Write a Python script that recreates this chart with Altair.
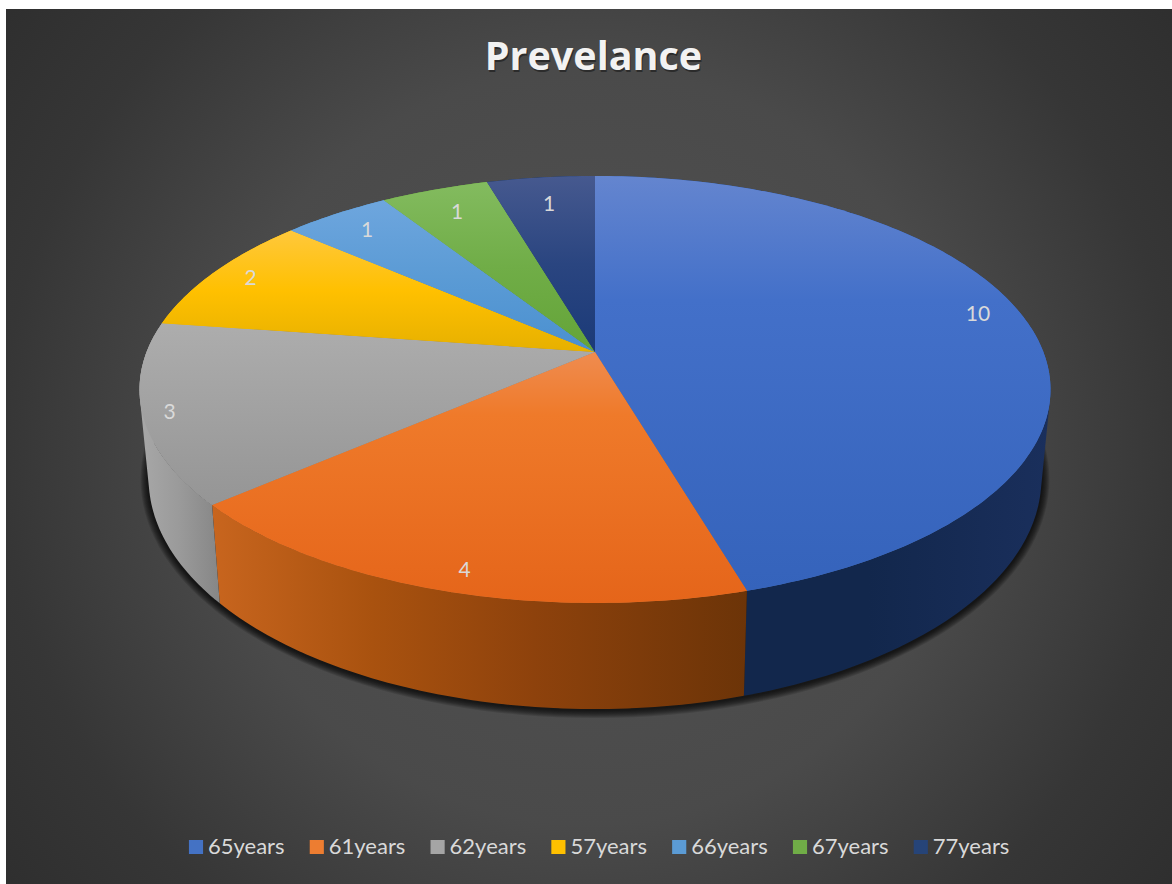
import math
import altair as alt

# Age groups and their case counts
ages = ["65years", "61years", "62years", "57years", "66years", "67years", "77years"]
counts = [10, 4, 3, 2, 1, 1, 1]
flat_colors = ["#4472c4", "#ed7d31", "#a5a5a5", "#ffc000", "#5b9bd5", "#70ad47", "#264478"]

# Vertical shading of the top face of each slice
top_stops = [
    [(0, "#6485cf"), (0.3, "#4370c9"), (1, "#3563bb")],
    [(0, "#ef8c50"), (0.25, "#ef7a2a"), (1, "#e5651a")],
    [(0, "#adadad"), (1, "#959595")],
    [(0, "#ffc83c"), (0.5, "#ffc000"), (1, "#e6b000")],
    [(0, "#6ea6de"), (0.5, "#5b9bd5"), (1, "#4a90d0")],
    [(0, "#83bb5f"), (0.5, "#70ad47"), (1, "#64a438")],
    [(0, "#46598f"), (0.5, "#2a4580"), (1, "#1b3a78")],
]
# Horizontal shading of the outer wall of each slice
wall_stops = [
    [(0, "#12274c"), (0.6, "#12274c"), (1, "#1a2f5c")],
    [(0, "#c8651e"), (0.3, "#a9520f"), (0.6, "#8e420c"), (1, "#6c3408")],
    [(0, "#a8a8a8"), (0.5, "#9a9a9a"), (1, "#868686")],
    [(0, "#ad8500"), (1, "#ad8500")],
    [(0, "#3a6a96"), (1, "#3a6a96")],
    [(0, "#4c7730"), (1, "#4c7730")],
    [(0, "#1a2f52"), (1, "#1a2f52")],
]
# How far out along the slice each count label sits, and its angular nudge
label_reach = [0.90, 0.925, 0.945, 0.90, 0.865, 0.84, 0.82]
label_turn = [-3.5, -1, -1, 0, 0, 0, 0]

W, H = 1172, 884
HUB_X, HUB_Y = 595, 352
SPREAD_X, SPREAD_Y, TILT = 448.4, 206.9, 0.1756
FOOT_X, FOOT_Y, FOOT_BASE = 0.98, 1.08, 438
FONT = "Lato"
PROJ = alt.Projection(type="identity", scale=1, translate=[0, 0])


def rim(deg, reach=1.0):
    """Perspective position on the tilted disc, clockwise from 12 o'clock."""
    t = math.radians(deg)
    den = 1 + TILT * reach * math.cos(t)
    return (HUB_X + SPREAD_X * reach * math.sin(t) / den,
            HUB_Y - SPREAD_Y * reach * math.cos(t) / den)


def foot(p):
    """Lower edge of the wall beneath a rim point."""
    return (HUB_X + FOOT_X * (p[0] - HUB_X), FOOT_BASE + FOOT_Y * (p[1] - HUB_Y))


def arc(a, b):
    n = max(2, int(abs(b - a)) + 1)
    return [rim(a + (b - a) * i / n) for i in range(n + 1)]


def closed(ring):
    ring = [[round(x, 2), round(y, 2)] for x, y in ring]
    return ring + [ring[0]]


def feature(ring, **props):
    return {"type": "Feature", "properties": props,
            "geometry": {"type": "Polygon", "coordinates": [closed(ring)]}}


def wall_feature(a, b):
    """Wall as overlapping, same-wound quads so the silhouette stays convex."""
    top = arc(a, b)
    quads = []
    for j in range(len(top) - 1):
        k = min(j + 2, len(top) - 1)
        quad = [top[j], top[k], foot(top[k]), foot(top[j])]
        area = sum(quad[m][0] * quad[(m + 1) % 4][1] - quad[(m + 1) % 4][0] * quad[m][1] for m in range(4))
        if area < 0:
            quad.reverse()
        quads.append([closed(quad)])
    return {"type": "Feature", "properties": {},
            "geometry": {"type": "MultiPolygon", "coordinates": quads}}


def gradient(stops, horizontal=False):
    return {"gradient": "linear", "x1": 0, "y1": 0,
            "x2": 1 if horizontal else 0, "y2": 0 if horizontal else 1,
            "stops": [{"offset": o, "color": c} for o, c in stops]}


total = sum(counts)
edges = [0]
for c in counts:
    edges.append(edges[-1] + c / total * 360)

# Chart backdrop
backdrop = alt.Chart(alt.Data(values=[{"k": 1}])).mark_rect(
    fill={"gradient": "radial", "x1": 0.5, "y1": 0.5, "r1": 0, "x2": 0.5, "y2": 0.5, "r2": 0.72,
          "stops": [{"offset": 0, "color": "#535353"}, {"offset": 0.45, "color": "#4a4a4a"},
                    {"offset": 0.7, "color": "#363636"}, {"offset": 1, "color": "#292929"}]}
).encode(x=alt.value(6), x2=alt.value(W), y=alt.value(9), y2=alt.value(H))

# Soft drop shadow: nested outlines of the base of the disc
full_foot = [foot(rim(d)) for d in range(0, 360, 2)]
cx = HUB_X
cy = FOOT_BASE + FOOT_Y * 38
shadow_rows = []
for grow in [8, 7, 6, 5, 4, 3, 2, 1]:
    ring = [(cx + (x - cx) * (1 + grow / 445), cy + (y - cy) * (1 + grow / 230) + 1) for x, y in full_foot]
    shadow_rows.append(feature(ring))
shadow = alt.Chart(alt.Data(values=shadow_rows)).mark_geoshape(
    fill="#000000", fillOpacity=0.13, strokeWidth=0).project(**PROJ.to_dict())

layers = [backdrop, shadow]

# Outer walls
for i in range(len(counts)):
    layers.append(alt.Chart(alt.Data(values=[wall_feature(edges[i], edges[i + 1])])).mark_geoshape(
        fill=gradient(wall_stops[i], horizontal=True), strokeWidth=0).project(**PROJ.to_dict()))

# Top faces, flat colours carry the legend
faces = [feature([(HUB_X, HUB_Y)] + arc(edges[i], edges[i + 1]), age=ages[i]) for i in range(len(counts))]
layers.append(alt.Chart(alt.Data(values=faces)).mark_geoshape(strokeWidth=0).encode(
    color=alt.Color("properties.age:N",
                    scale=alt.Scale(domain=ages, range=flat_colors),
                    legend=alt.Legend(orient="none", legendX=185, legendY=834, direction="horizontal",
                                      columns=7, title=None, symbolType="square", symbolSize=200,
                                      symbolStrokeWidth=0, columnPadding=20.8, labelOffset=1,
                                      labelFont=FONT, labelFontSize=22, labelColor="#d9d9d9",
                                      clipHeight=26, labelLimit=200))
).project(**PROJ.to_dict()))

# Shaded top faces
for i in range(len(counts)):
    layers.append(alt.Chart(alt.Data(values=[faces[i]])).mark_geoshape(
        fill=gradient(top_stops[i]), strokeWidth=0).project(**PROJ.to_dict()))

xs = alt.Scale(domain=[0, W], range=[0, W])
ys = alt.Scale(domain=[0, H], range=[0, H])

# Count labels
label_rows = []
for i, c in enumerate(counts):
    mid = (edges[i] + edges[i + 1]) / 2 + label_turn[i]
    x, y = rim(mid, label_reach[i])
    label_rows.append({"x": x, "y": y, "n": str(c)})
layers.append(alt.Chart(alt.Data(values=label_rows)).mark_text(
    font=FONT, fontSize=21, color="#d9d9d9", align="center", baseline="middle").encode(
    x=alt.X("x:Q", scale=xs, axis=None), y=alt.Y("y:Q", scale=ys, axis=None), text="n:N"))

# Title with a soft shadow
TITLE = "Prevelance"
title_rows = [{"x": 593.5, "y": 58, "t": TITLE}]
layers.append(alt.Chart(alt.Data(values=[{"x": 594.5, "y": 60, "t": TITLE}])).mark_text(
    font="Open Sans", fontWeight="bold", fontSize=39.5, color="#000000", opacity=0.4,
    align="center", baseline="middle").encode(
    x=alt.X("x:Q", scale=xs, axis=None), y=alt.Y("y:Q", scale=ys, axis=None), text="t:N"))
layers.append(alt.Chart(alt.Data(values=title_rows)).mark_text(
    font="Open Sans", fontWeight="bold", fontSize=39.5, color="#f2f2f2",
    align="center", baseline="middle").encode(
    x=alt.X("x:Q", scale=xs, axis=None), y=alt.Y("y:Q", scale=ys, axis=None), text="t:N"))

chart = alt.layer(*layers).properties(
    width=W, height=H, padding=0, autosize=alt.AutoSizeParams(type="none"), background="#ffffff"
).configure_view(stroke=None)

chart.save("out.html", embed_options={"renderer": "svg", "actions": False})
